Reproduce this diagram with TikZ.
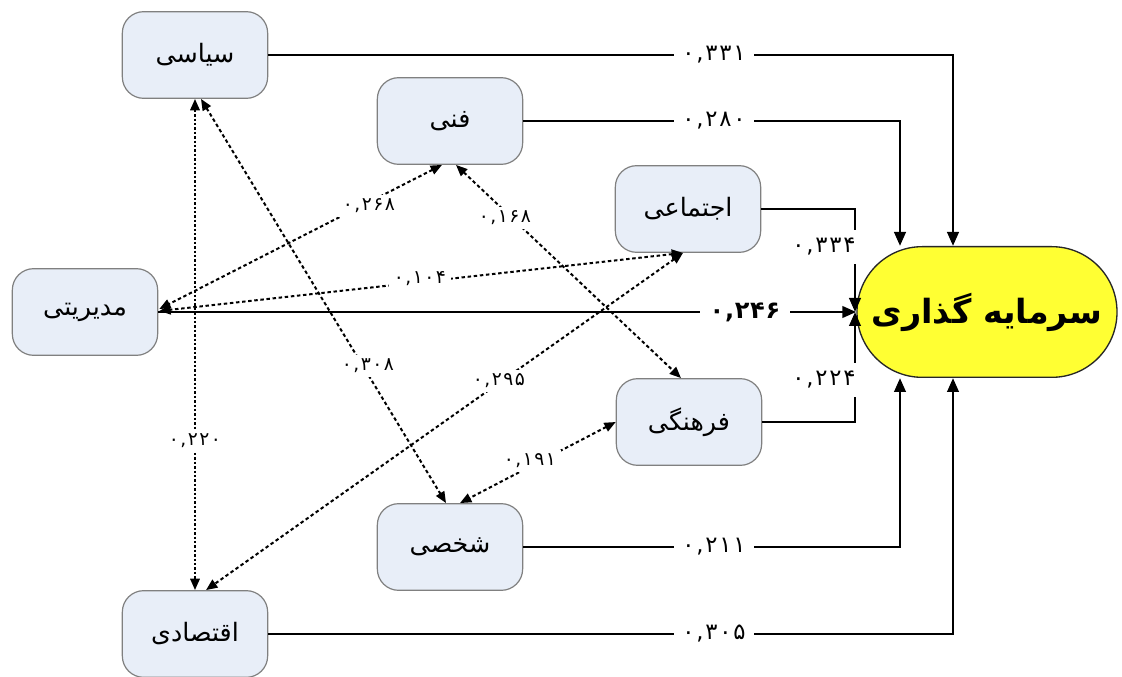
\documentclass[tikz,border=0pt]{standalone}
\usepackage{fontspec}
\TeXXeTstate=1
\newfontfamily\fa[Script=Arabic]{DejaVu Sans}
\newfontfamily\num[LetterSpace=8]{DejaVu Sans}
\newfontfamily\numb[LetterSpace=3]{DejaVu Sans}
\usetikzlibrary{arrows.meta,calc}
\definecolor{boxfill}{HTML}{E8EEF8}
\definecolor{boxline}{HTML}{808080}
\definecolor{goalyellow}{HTML}{FFFF33}
\begin{document}
\begin{tikzpicture}[x=0.75pt,y=-0.75pt,
  box/.style={draw=boxline, fill=boxfill, rounded corners=16pt, minimum width=109pt, minimum height=65pt, line width=0.9pt, inner sep=0pt, font=\fa\fontsize{19}{22}\selectfont},
  goal/.style={draw=black!85, fill=goalyellow, rounded corners=48.9pt, minimum width=195pt, minimum height=98pt, line width=1pt, inner sep=0pt, font=\fa\bfseries\fontsize{25}{30}\selectfont},
  solidarr/.style={line width=2.2pt, -{Triangle[length=10.5pt,width=8.5pt]}},
  dasharr/.style={line width=1.5pt, dash pattern=on 2.6pt off 2pt, {Triangle[length=8.5pt,width=7pt]}-{Triangle[length=8.5pt,width=7pt]}},
  dotarr/.style={line width=1.6pt, dash pattern=on 1.8pt off 1.5pt, {Triangle[length=8.5pt,width=7pt]}-{Triangle[length=8.5pt,width=7pt]}},
  lbl/.style={fill=white, inner xsep=6pt, inner ysep=3pt, font=\num\fontsize{17}{19}\selectfont},
  dlbl/.style={fill=white, inner xsep=4pt, inner ysep=3pt, font=\num\fontsize{14}{16}\selectfont},
  biglbl/.style={fill=white, inner xsep=7pt, inner ysep=3pt, font=\numb\bfseries\fontsize{18}{20}\selectfont}
]
\path[fill=white, use as bounding box] (0,0) rectangle (1122,677);

% nodes
\node[box] (siasi) at (195,55) {\beginR سیاسی\endR};
\node[box] (fani) at (450,121) {\beginR فنی\endR};
\node[box] (ejtemai) at (688,209) {\beginR اجتماعی\endR};
\node[box] (modir) at (85,312) {\beginR مدیریتی\endR};
\node[box] (farhangi) at (689,422) {\beginR فرهنگی\endR};
\node[box] (shakhsi) at (450,547) {\beginR شخصی\endR};
\node[box] (eghtesadi) at (195,634) {\beginR اقتصادی\endR};
\node[goal] (goal) at (987,312) {\beginR سرمایه گذاری\endR};

% channel coordinates
\coordinate (c1) at (953,0);
\coordinate (c2) at (900,0);
\coordinate (c3) at (855,0);

% solid connectors
\draw[solidarr] (siasi.east) -- (siasi.east -| c1) -- (goal.north -| c1);
\draw[solidarr] (fani.east) -- (fani.east -| c2) -- (goal.north -| c2);
\draw[solidarr] (ejtemai.east) -- (ejtemai.east -| c3) -- (goal.west -| c3);
\draw[solidarr] (modir.east) -- (goal.west);
\draw[solidarr] (farhangi.east) -- (farhangi.east -| c3) -- (goal.west -| c3);
\draw[solidarr] (shakhsi.east) -- (shakhsi.east -| c2) -- (goal.south -| c2);
\draw[solidarr] (eghtesadi.east) -- (eghtesadi.east -| c1) -- (goal.south -| c1);

% dashed correlations
\draw[dotarr] (siasi.south) -- (eghtesadi.north);
\draw[dasharr] ($(siasi.south)+(6,0)$) -- ($(shakhsi.north)+(-4,0)$);
\draw[dasharr] ($(fani.south)+(-8,0)$) -- ($(modir.east)+(1,-3)$);
\draw[dasharr] ($(fani.south)+(6,0)$) -- ($(farhangi.north)+(-8,0)$);
\draw[dasharr] ($(ejtemai.south)+(-5,0)$) -- ($(modir.east)+(1,-1)$);
\draw[dasharr] ($(ejtemai.south)+(-5,0)$) -- ($(eghtesadi.north)+(11,0)$);
\draw[dasharr] (farhangi.west) -- ($(shakhsi.north)+(10,0)$);

% labels on solid connectors
\node[lbl] (l331) at (714,55) {۰,۳۳۱};
\node[lbl] (l280) at (714,121) {۰,۲۸۰};
\node[lbl, inner xsep=2pt, inner ysep=6pt] (l334) at (824,247) {۰,۳۳۴};
\node[biglbl] (l246) at (745,312) {۰,۲۴۶};
\node[lbl, inner xsep=2pt, inner ysep=6pt] (l224) at (824,380) {۰,۲۲۴};
\node[lbl] (l211) at (714,547) {۰,۲۱۱};
\node[lbl] (l305) at (714,634) {۰,۳۰۵};

% labels on dashed connectors
\node[dlbl] (l220) at (195,441) {۰,۲۲۰};
\node[dlbl] (l308) at (368,366) {۰,۳۰۸};
\node[dlbl] (l268) at (369,206) {۰,۲۶۸};
\node[dlbl] (l168) at (505,218) {۰,۱۶۸};
\node[dlbl] (l104) at (420,279) {۰,۱۰۴};
\node[dlbl] (l295) at (499,381) {۰,۲۹۵};
\node[dlbl] (l191) at (530,461) {۰,۱۹۱};
\end{tikzpicture}
\end{document}
